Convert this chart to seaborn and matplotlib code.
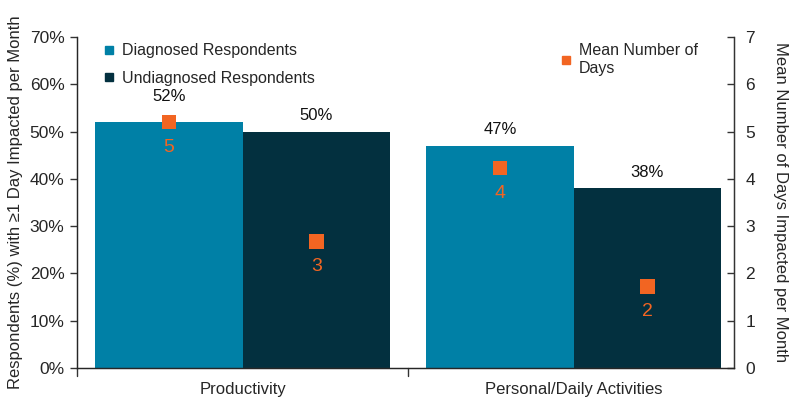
import numpy as np
import pandas as pd
import matplotlib.pyplot as plt
import seaborn as sns
from matplotlib.lines import Line2D

categories = ["Productivity", "Personal/Daily Activities"]
groups = ["Diagnosed Respondents", "Undiagnosed Respondents"]
diagnosed_pct = [52, 47]
undiagnosed_pct = [50, 38]
diagnosed_days = [5.2, 4.23]
undiagnosed_days = [2.67, 1.72]
diagnosed_days_label = ["5", "4"]
undiagnosed_days_label = ["3", "2"]

colors = {"Diagnosed Respondents": "#0080a6", "Undiagnosed Respondents": "#03303f"}
orange = "#f26522"

df = pd.DataFrame({
    "category": categories * 2,
    "group": [groups[0]] * 2 + [groups[1]] * 2,
    "pct": diagnosed_pct + undiagnosed_pct,
    "days": diagnosed_days + undiagnosed_days,
    "days_label": diagnosed_days_label + undiagnosed_days_label,
})

sns.set_style("white")
plt.rcParams["font.family"] = ["Liberation Sans", "DejaVu Sans"]

fig = plt.figure(figsize=(7.97, 4.07), dpi=100)
ax = fig.add_axes([0.0966, 0.0958, 0.8244, 0.8132])

sns.barplot(data=df, x="category", y="pct", hue="group", order=categories,
            hue_order=groups, palette=colors, width=0.89, saturation=1,
            edgecolor="none", legend=False, ax=ax)

ax.set_ylim(0, 70)
ax.set_xlim(-0.5, 1.484)
ax.set_yticks(range(0, 71, 10))
ax.set_yticklabels([f"{v}%" for v in range(0, 71, 10)], fontsize=12.5)
ax.set_xlabel("")
ax.set_ylabel("Respondents (%) with \u22651 Day Impacted per Month", fontsize=12, labelpad=5)
ax.tick_params(axis="y", direction="out", length=5, width=1, color="#333333", pad=4, left=True)
ax.set_xticks([0, 1])
ax.set_xticklabels(categories, fontsize=12)
ax.tick_params(axis="x", length=0, pad=10)
# boundary ticks on the category axis
for xb in [-0.5, 0.5]:
    ax.plot([xb, xb], [0, -0.025], transform=ax.get_xaxis_transform(),
            color="#333333", lw=1, clip_on=False)
ax.spines["top"].set_visible(False)
for side in ["left", "bottom", "right"]:
    ax.spines[side].set_color("#333333")
    ax.spines[side].set_linewidth(1)

# bar centers from drawn patches (hue-major order)
centers = [p.get_x() + p.get_width() / 2 for p in ax.patches]

pct_offsets = [13, 6, 6, 6]
for p, val, off in zip(ax.patches, df["pct"], pct_offsets):
    ax.annotate(f"{val}%", (p.get_x() + p.get_width() / 2, val),
                xytext=(0, off), textcoords="offset points",
                ha="center", va="bottom", fontsize=12, color="#111111")

ax2 = ax.twinx()
df["xpos"] = centers
sns.scatterplot(data=df, x="xpos", y="days", marker="s", s=110, color=orange,
                edgecolor="none", legend=False, ax=ax2, zorder=5)
for x, y, lab in zip(df["xpos"], df["days"], df["days_label"]):
    ax2.annotate(lab, (x, y), xytext=(0, -12), textcoords="offset points",
                 ha="center", va="top", fontsize=14, color=orange,
                 family=["Liberation Sans Narrow", "Liberation Sans", "DejaVu Sans"])
ax2.set_ylim(0, 7)
ax2.set_yticks(range(0, 8))
ax2.set_yticklabels([str(v) for v in range(0, 8)], fontsize=12.5)
ax2.tick_params(axis="y", direction="in", length=5, width=1, color="#333333", pad=8, right=True)
ax2.set_ylabel("Mean Number of Days Impacted per Month", fontsize=12, rotation=270, labelpad=24)
ax2.set_xlabel("")
ax2.spines["top"].set_visible(False)
ax2.spines["right"].set_color("#333333")
ax2.set_xlim(-0.5, 1.484)

h1 = [Line2D([], [], marker="s", ls="", color=colors[g], markersize=6) for g in groups]
ax.legend(h1, groups, loc="upper left", bbox_to_anchor=(0.015, 1.025),
          frameon=False, fontsize=11.5, handletextpad=0.3, labelspacing=0.8,
          handlelength=1.0)
h2 = [Line2D([], [], marker="s", ls="", color=orange, markersize=6)]
ax2.legend(h2, ["Mean Number of\nDays"], loc="upper left", bbox_to_anchor=(0.71, 1.025),
           frameon=False, fontsize=11.5, handletextpad=0.3, handlelength=1.0)

fig.savefig("out.png", dpi=100)
